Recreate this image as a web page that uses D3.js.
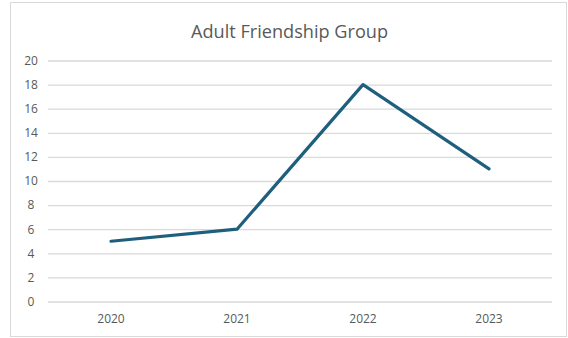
<!DOCTYPE html>
<html><head><meta charset="utf-8">
<script src="https://cdn.jsdelivr.net/npm/d3@7"></script>
<style>body{margin:0;background:#fff}svg{display:block}</style>
</head><body>
<script>
const categories = ["2020","2021","2022","2023"];
const values = [5, 6, 18, 11];
const yTicks = [0,2,4,6,8,10,12,14,16,18,20];
const title = "Adult Friendship Group";

(function(){
const W = 568, H = 338;
const svg = d3.select("body").append("svg").attr("width", W).attr("height", H);
svg.append("rect").attr("x",10.5).attr("y",2.5).attr("width",556).attr("height",334)
  .attr("fill","#fff").attr("stroke","#d9d9d9").attr("stroke-width",1);

const mLeft = 48, mRight = 552, mTop = 60.5, mBottom = 301.5;
const x = d3.scaleBand().domain(categories).range([mLeft, mRight]);
const y = d3.scaleLinear().domain([0,20]).range([mBottom, mTop]);

svg.append("text").attr("x", 289.5).attr("y", 37.5).attr("text-anchor","middle")
  .attr("font-family","Open Sans, sans-serif").attr("font-size",18).attr("fill","#595959")
  .attr("textLength",197).attr("lengthAdjust","spacingAndGlyphs")
  .text(title);

const yAxis = svg.append("g").attr("transform",`translate(${mLeft},0)`)
  .call(d3.axisLeft(y).tickValues(yTicks).tickSize(-(mRight-mLeft)).tickPadding(12));
yAxis.select(".domain").remove();
yAxis.selectAll("line").attr("stroke","#d9d9d9").attr("stroke-width",1.3);
yAxis.selectAll("text").attr("font-family","Open Sans, sans-serif").attr("font-size",12).attr("fill","#595959").attr("text-anchor","middle").attr("dx",-5);

const xAxis = svg.append("g").attr("transform",`translate(0,${mBottom})`)
  .call(d3.axisBottom(x).tickSize(0).tickPadding(13));
xAxis.select(".domain").remove();
xAxis.selectAll("text").attr("font-family","Open Sans, sans-serif").attr("font-size",12).attr("fill","#595959");

const line = d3.line().x((d,i)=>x(categories[i]) + x.bandwidth()/2).y(d=>y(d));
svg.append("path").datum(values).attr("d", line).attr("fill","none")
  .attr("stroke","#1f5f7e").attr("stroke-width",3.2).attr("stroke-linejoin","round").attr("stroke-linecap","round");
})();
</script>
</body></html>
